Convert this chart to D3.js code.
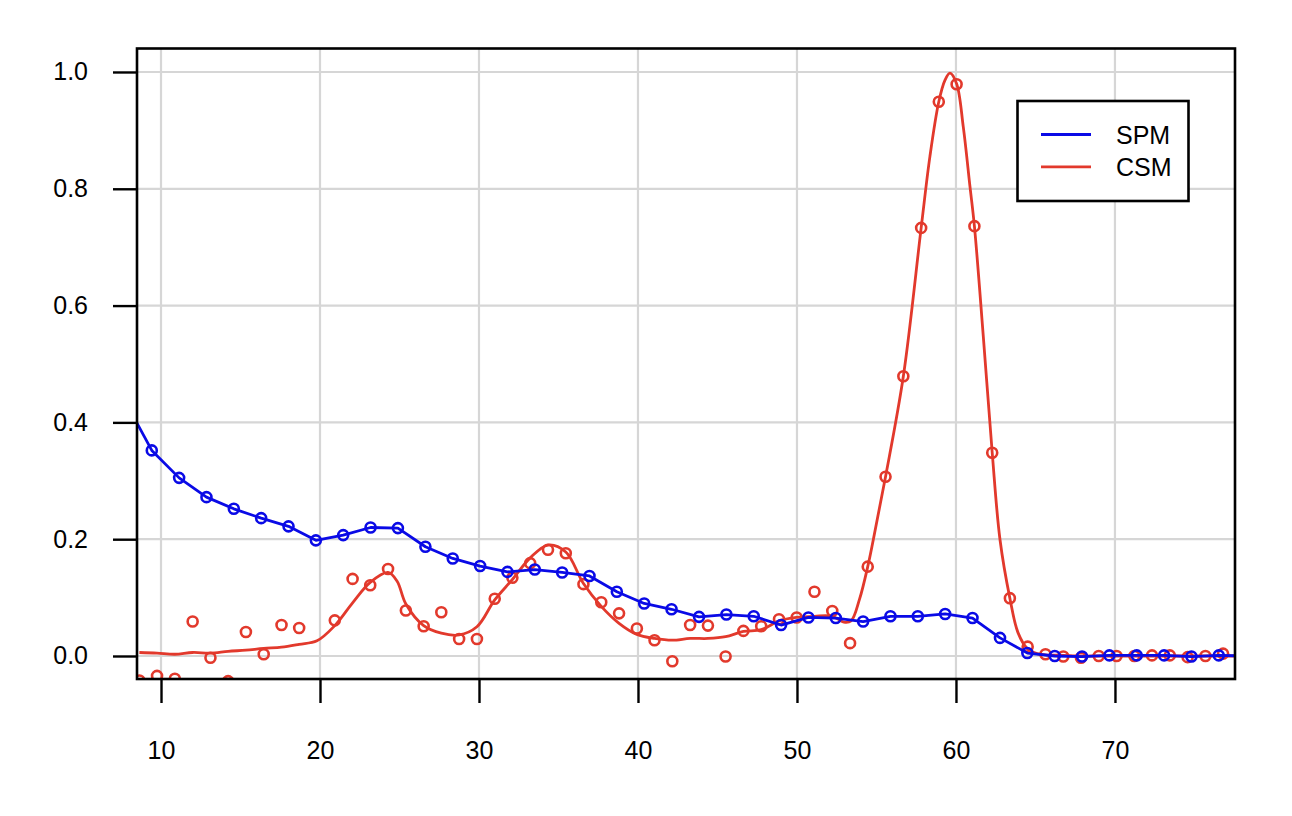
<!DOCTYPE html>
<html>
<head>
<meta charset="utf-8">
<script src="https://cdn.jsdelivr.net/npm/d3@7"></script>
<style>
  html, body { margin: 0; padding: 0; background: #ffffff; }
  svg { display: block; font-family: "Liberation Sans", Arial, Helvetica, sans-serif; }
</style>
</head>
<body>
<div id="chart"></div>
<script>
// ---- data ----
const spmX = [7.69, 9.42, 11.14, 12.86, 14.58, 16.30, 18.02, 19.74, 21.46, 23.18, 24.90,
  26.63, 28.35, 30.07, 31.79, 33.51, 35.23, 36.95, 38.67, 40.39, 42.11, 43.84, 45.56,
  47.28, 49.00, 50.72, 52.44, 54.16, 55.88, 57.60, 59.32, 61.04, 62.77, 64.49, 66.21,
  67.93, 69.65, 71.37, 73.09, 74.81, 76.53, 78.25];
const spmY = [0.439, 0.352, 0.305, 0.272, 0.252, 0.236, 0.222, 0.198, 0.207, 0.220, 0.219,
  0.187, 0.167, 0.154, 0.144, 0.148, 0.143, 0.137, 0.110, 0.090, 0.080, 0.067, 0.071,
  0.068, 0.053, 0.066, 0.065, 0.059, 0.068, 0.068, 0.072, 0.065, 0.031, 0.005, 0.000,
  -0.001, 0.001, 0.001, 0.001, -0.001, 0.001, 0.000];

const csmX = [8.64, 9.75, 10.87, 11.99, 13.11, 14.22, 15.34, 16.46, 17.58, 18.69, 19.81,
  20.93, 22.05, 23.16, 24.28, 25.40, 26.52, 27.63, 28.75, 29.87, 30.99, 32.10, 33.22,
  34.34, 35.46, 36.57, 37.69, 38.81, 39.93, 41.04, 42.16, 43.28, 44.40, 45.51, 46.63,
  47.75, 48.87, 49.98, 51.10, 52.22, 53.34, 54.45, 55.57, 56.69, 57.81, 58.92, 60.04,
  61.16, 62.28, 63.39, 64.51, 65.63, 66.75, 67.86, 68.98, 70.10, 71.22, 72.33, 73.45,
  74.57, 75.69, 76.80, 77.92];
const csmY = [-0.042, -0.034, -0.039, 0.059, -0.003, -0.043, 0.041, 0.003, 0.053, 0.048, -0.050,
  0.061, 0.132, 0.121, 0.149, 0.078, 0.051, 0.075, 0.029, 0.029, 0.098, 0.134, 0.159,
  0.182, 0.176, 0.123, 0.092, 0.073, 0.047, 0.027, -0.009, 0.053, 0.052, -0.001, 0.043,
  0.051, 0.063, 0.066, 0.110, 0.077, 0.022, 0.153, 0.307, 0.479, 0.733, 0.949, 0.979,
  0.736, 0.348, 0.099, 0.016, 0.003, -0.001, -0.003, 0.000, 0.000, 0.000, 0.001, 0.001,
  -0.002, 0.000, 0.004, 0.000];

// smoothed CSM curve
const csmFitX = [8.64, 9.75, 10.87, 11.99, 13.11, 14.22, 15.34, 16.46, 17.58, 18.69, 19.81,
  20.93, 22.05, 23.16, 24.28, 24.85, 25.40, 26.52, 27.63, 28.75, 29.87, 30.99, 32.10, 33.22,
  34.34, 35.46, 36.57, 37.69, 38.81, 39.93, 41.04, 42.16, 43.28, 44.40, 45.51, 46.63,
  47.75, 48.87, 49.98, 51.10, 52.22, 52.95, 53.40, 53.93, 54.45, 54.80, 55.57, 56.69,
  57.81, 58.36, 58.92, 59.31, 59.62, 60.04, 60.46, 60.88, 61.16, 61.72, 62.28, 62.77,
  63.39, 63.90, 64.51, 65.10, 65.63, 66.75, 67.86, 68.98, 70.10, 71.22, 72.33, 73.45,
  74.57, 75.69, 76.80, 77.92];
const csmFitY = [0.006, 0.005, 0.003, 0.006, 0.005, 0.008, 0.010, 0.013, 0.015, 0.020, 0.026,
  0.052, 0.091, 0.126, 0.143, 0.128, 0.089, 0.052, 0.039, 0.036, 0.050, 0.096, 0.131, 0.168,
  0.190, 0.178, 0.124, 0.085, 0.056, 0.037, 0.030, 0.027, 0.030, 0.030, 0.033, 0.042,
  0.045, 0.060, 0.066, 0.068, 0.068, 0.058, 0.060, 0.097, 0.153, 0.199, 0.307, 0.479,
  0.733, 0.855, 0.949, 0.986, 0.998, 0.980, 0.906, 0.804, 0.736, 0.547, 0.348, 0.199,
  0.099, 0.040, 0.012, 0.004, 0.002, 0.001, 0.000, 0.000, 0.000, 0.000, 0.000, 0.000,
  0.000, 0.000, 0.000, 0.000];

const xTicks = [10, 20, 30, 40, 50, 60, 70];
const yTicks = [0.0, 0.2, 0.4, 0.6, 0.8, 1.0];
const seriesNames = ["SPM", "CSM"];
const seriesColors = ["#0a0ae6", "#e2392c"];

// ---- layout ----
const W = 1292, H = 816;
const plot = { left: 137, right: 1235, top: 48.5, bottom: 679 };

const x = d3.scaleLinear().domain([8.49, 77.55]).range([plot.left, plot.right]);
const y = d3.scaleLinear().domain([-0.0394, 1.0402]).range([plot.bottom, plot.top]);

const svg = d3.select("#chart").append("svg")
  .attr("width", W).attr("height", H)
  .style("background", "#fff");

svg.append("defs").append("clipPath").attr("id", "clip")
  .append("rect")
  .attr("x", plot.left).attr("y", plot.top)
  .attr("width", plot.right - plot.left).attr("height", plot.bottom - plot.top);

// grid
const grid = svg.append("g").attr("clip-path", "url(#clip)");
grid.selectAll("line.gx").data(xTicks).join("line")
  .attr("x1", d => x(d)).attr("x2", d => x(d))
  .attr("y1", plot.top).attr("y2", plot.bottom)
  .attr("stroke", "#d6d6d6").attr("stroke-width", 2.2);
grid.selectAll("line.gy").data(yTicks).join("line")
  .attr("y1", d => y(d)).attr("y2", d => y(d))
  .attr("x1", plot.left).attr("x2", plot.right)
  .attr("stroke", "#d6d6d6").attr("stroke-width", 2.2);

// data
const data = svg.append("g").attr("clip-path", "url(#clip)");

const csmPts = csmX.map((v, i) => ({ x: v, y: csmY[i] }));
const fitPts = csmFitX.map((v, i) => ({ x: v, y: csmFitY[i] }));
const spmPts = spmX.map((v, i) => ({ x: v, y: spmY[i] }));

data.append("path")
  .datum(fitPts)
  .attr("fill", "none").attr("stroke", seriesColors[1]).attr("stroke-width", 2.8)
  .attr("stroke-linejoin", "round")
  .attr("d", d3.line().x(d => x(d.x)).y(d => y(d.y)).curve(d3.curveCatmullRom.alpha(0.5)));

data.selectAll("circle.csm").data(csmPts).join("circle")
  .attr("class", "csm")
  .attr("cx", d => x(d.x)).attr("cy", d => y(d.y)).attr("r", 5)
  .attr("fill", "none").attr("stroke", seriesColors[1]).attr("stroke-width", 2.6);

data.append("path")
  .datum(spmPts)
  .attr("fill", "none").attr("stroke", seriesColors[0]).attr("stroke-width", 2.8)
  .attr("stroke-linejoin", "round")
  .attr("d", d3.line().x(d => x(d.x)).y(d => y(d.y)));

data.selectAll("circle.spm").data(spmPts).join("circle")
  .attr("class", "spm")
  .attr("cx", d => x(d.x)).attr("cy", d => y(d.y)).attr("r", 5)
  .attr("fill", "none").attr("stroke", seriesColors[0]).attr("stroke-width", 2.6);

// frame
svg.append("rect")
  .attr("x", plot.left).attr("y", plot.top)
  .attr("width", plot.right - plot.left).attr("height", plot.bottom - plot.top)
  .attr("fill", "none").attr("stroke", "#000").attr("stroke-width", 2.6);

// axes
const xAxis = d3.axisBottom(x).tickValues(xTicks).tickSize(24).tickPadding(38)
  .tickFormat(d3.format("d"));
const gx = svg.append("g").attr("transform", `translate(0,${plot.bottom})`).call(xAxis);
gx.select(".domain").remove();
gx.selectAll(".tick line").attr("stroke", "#000").attr("stroke-width", 2.4);
gx.selectAll(".tick text").attr("fill", "#000").style("font-size", "25px")
  .style("font-family", "'Liberation Sans', Arial, sans-serif");

const yAxis = d3.axisLeft(y).tickValues(yTicks).tickSize(24).tickPadding(25)
  .tickFormat(d3.format(".1f"));
const gy = svg.append("g").attr("transform", `translate(${plot.left},0)`).call(yAxis);
gy.select(".domain").remove();
gy.selectAll(".tick line").attr("stroke", "#000").attr("stroke-width", 2.4);
gy.selectAll(".tick text").attr("fill", "#000").style("font-size", "25px")
  .style("font-family", "'Liberation Sans', Arial, sans-serif");

// legend
const lg = svg.append("g");
lg.append("rect")
  .attr("x", 1017.5).attr("y", 101).attr("width", 171).attr("height", 100)
  .attr("fill", "#fff").attr("stroke", "#000").attr("stroke-width", 2.6);
seriesNames.forEach((name, i) => {
  const yy = 134.5 + i * 32.3;
  lg.append("line").attr("x1", 1041).attr("x2", 1091).attr("y1", yy).attr("y2", yy)
    .attr("stroke", seriesColors[i]).attr("stroke-width", 2.8);
  lg.append("text").attr("x", 1116).attr("y", yy).attr("dy", "0.36em")
    .style("font-size", "25px").attr("fill", "#000").text(name);
});
</script>
</body>
</html>
